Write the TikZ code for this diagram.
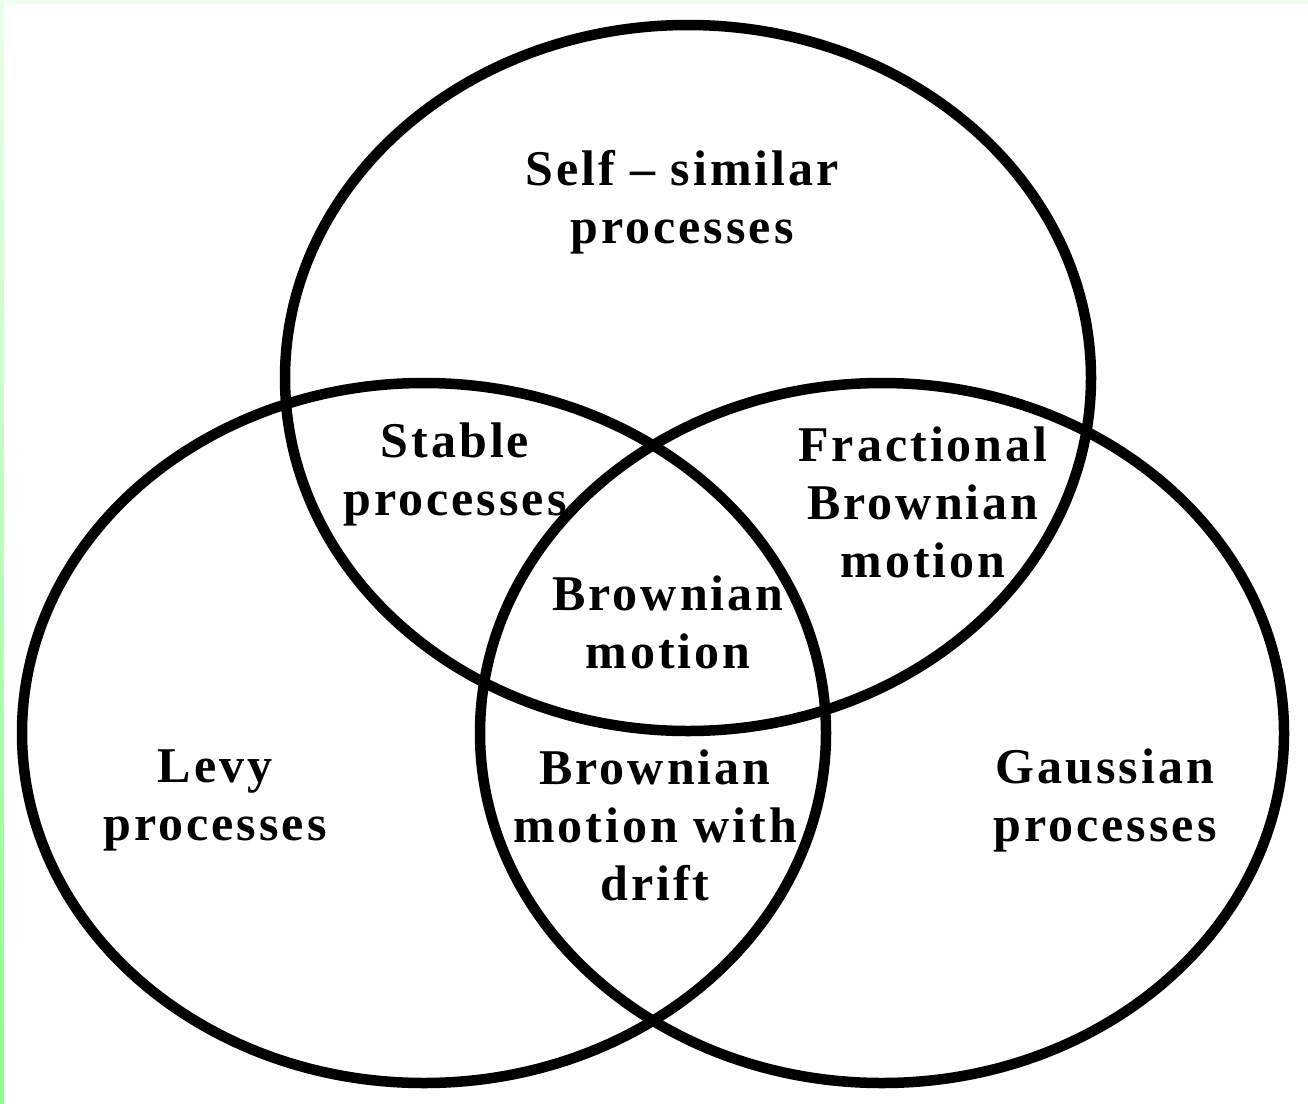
\documentclass[tikz,border=0pt]{standalone}
\usepackage{fontspec}
\setmainfont{Liberation Serif}[LetterSpace=6]
\begin{document}
\begin{tikzpicture}[x=1pt,y=-1pt,
  ring/.style={draw=black,line width=10.5pt},
  lbl/.style={font=\fontsize{50}{58}\selectfont\bfseries,align=center,inner sep=0pt}]
\useasboundingbox (0,0) rectangle (1308,1103);
\fill[white] (0,0) rectangle (1308,1103);
\fill[green!6] (0,0) rectangle (1308,4);
\shade[top color=green!8, bottom color=green!45!white] (0,0) rectangle (4,1103);
\draw[ring] (688,378) ellipse [x radius=403, y radius=353];
\draw[ring] (424,733) ellipse [x radius=402, y radius=350];
\draw[ring] (882,733) ellipse [x radius=402, y radius=350];
\node[lbl] (ss) at (682,202) {Self -- similar\\processes};
\node[lbl] (st) at (455,474) {Stable\\processes};
\node[lbl] (fb) at (923,502) {Fractional\\Brownian\\motion};
\node[lbl] (bm) at (668,622) {Brownian\\motion};
\node[lbl] (lv) at (215,800) {Levy\\processes};
\node[lbl] (bd) at (655,825) {Brownian\\motion with\\drift};
\node[lbl] (gs) at (1105,800) {Gaussian\\processes};
\end{tikzpicture}
\end{document}
